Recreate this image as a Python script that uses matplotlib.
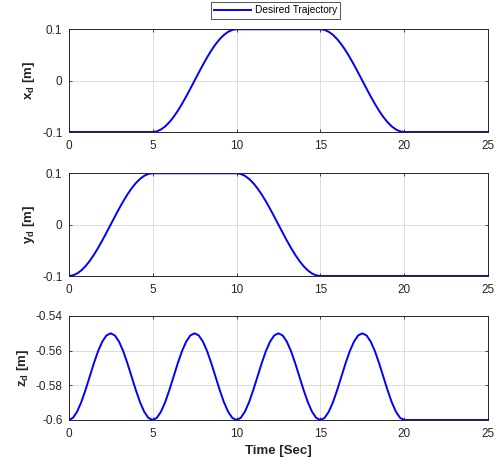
import matplotlib
matplotlib.use("Agg")
import matplotlib.pyplot as plt

# ---- data ----
x_t = [0.0,
       5.0, 5.25, 5.5, 5.75, 6.0, 6.25, 6.5, 6.75, 7.0, 7.25, 7.5, 7.75, 8.0, 8.25, 8.5, 8.75, 9.0, 9.25, 9.5, 9.75, 10.0,
       15.0, 15.25, 15.5, 15.75, 16.0, 16.25, 16.5, 16.75, 17.0, 17.25, 17.5, 17.75, 18.0, 18.25, 18.5, 18.75, 19.0, 19.25, 19.5, 19.75, 20.0,
       25.0]
x_d = [-0.1,
       -0.1, -0.0988, -0.0951, -0.0891, -0.0809, -0.0707, -0.0588, -0.0454, -0.0309, -0.0156, 0.0,
       0.0156, 0.0309, 0.0454, 0.0588, 0.0707, 0.0809, 0.0891, 0.0951, 0.0988, 0.1,
       0.1, 0.0988, 0.0951, 0.0891, 0.0809, 0.0707, 0.0588, 0.0454, 0.0309, 0.0156, 0.0,
       -0.0156, -0.0309, -0.0454, -0.0588, -0.0707, -0.0809, -0.0891, -0.0951, -0.0988, -0.1,
       -0.1]

y_t = [0.0, 0.25, 0.5, 0.75, 1.0, 1.25, 1.5, 1.75, 2.0, 2.25, 2.5, 2.75, 3.0, 3.25, 3.5, 3.75, 4.0, 4.25, 4.5, 4.75, 5.0,
       10.0, 10.25, 10.5, 10.75, 11.0, 11.25, 11.5, 11.75, 12.0, 12.25, 12.5, 12.75, 13.0, 13.25, 13.5, 13.75, 14.0, 14.25, 14.5, 14.75, 15.0,
       25.0]
y_d = [-0.1, -0.0988, -0.0951, -0.0891, -0.0809, -0.0707, -0.0588, -0.0454, -0.0309, -0.0156, 0.0,
       0.0156, 0.0309, 0.0454, 0.0588, 0.0707, 0.0809, 0.0891, 0.0951, 0.0988, 0.1,
       0.1, 0.0988, 0.0951, 0.0891, 0.0809, 0.0707, 0.0588, 0.0454, 0.0309, 0.0156, 0.0,
       -0.0156, -0.0309, -0.0454, -0.0588, -0.0707, -0.0809, -0.0891, -0.0951, -0.0988, -0.1,
       -0.1]

z_t = [0.0, 0.25, 0.5, 0.75, 1.0, 1.25, 1.5, 1.75, 2.0, 2.25, 2.5, 2.75, 3.0, 3.25, 3.5, 3.75, 4.0, 4.25, 4.5, 4.75,
       5.0, 5.25, 5.5, 5.75, 6.0, 6.25, 6.5, 6.75, 7.0, 7.25, 7.5, 7.75, 8.0, 8.25, 8.5, 8.75, 9.0, 9.25, 9.5, 9.75,
       10.0, 10.25, 10.5, 10.75, 11.0, 11.25, 11.5, 11.75, 12.0, 12.25, 12.5, 12.75, 13.0, 13.25, 13.5, 13.75, 14.0, 14.25, 14.5, 14.75,
       15.0, 15.25, 15.5, 15.75, 16.0, 16.25, 16.5, 16.75, 17.0, 17.25, 17.5, 17.75, 18.0, 18.25, 18.5, 18.75, 19.0, 19.25, 19.5, 19.75,
       20.0, 25.0]
z_d = [-0.6, -0.5988, -0.5952, -0.5897, -0.5827, -0.575, -0.5673, -0.5603, -0.5548, -0.5512,
       -0.55, -0.5512, -0.5548, -0.5603, -0.5673, -0.575, -0.5827, -0.5897, -0.5952, -0.5988,
       -0.6, -0.5988, -0.5952, -0.5897, -0.5827, -0.575, -0.5673, -0.5603, -0.5548, -0.5512,
       -0.55, -0.5512, -0.5548, -0.5603, -0.5673, -0.575, -0.5827, -0.5897, -0.5952, -0.5988,
       -0.6, -0.5988, -0.5952, -0.5897, -0.5827, -0.575, -0.5673, -0.5603, -0.5548, -0.5512,
       -0.55, -0.5512, -0.5548, -0.5603, -0.5673, -0.575, -0.5827, -0.5897, -0.5952, -0.5988,
       -0.6, -0.5988, -0.5952, -0.5897, -0.5827, -0.575, -0.5673, -0.5603, -0.5548, -0.5512,
       -0.55, -0.5512, -0.5548, -0.5603, -0.5673, -0.575, -0.5827, -0.5897, -0.5952, -0.5988,
       -0.6, -0.6]

x_ticks = [0, 5, 10, 15, 20, 25]
xy_yticks = [-0.1, 0, 0.1]
xy_yticklabels = ["-0.1", "0", "0.1"]
z_yticks = [-0.6, -0.58, -0.56, -0.54]
z_yticklabels = ["-0.6", "-0.58", "-0.56", "-0.54"]
legend_label = "Desired Trajectory"

plt.rcParams['font.family'] = ['Liberation Sans', 'DejaVu Sans']
plt.rcParams['mathtext.fontset'] = 'custom'
plt.rcParams['mathtext.rm'] = 'Liberation Sans'
plt.rcParams['mathtext.bf'] = 'Liberation Sans:bold'
plt.rcParams['mathtext.it'] = 'Liberation Sans:italic'

fig = plt.figure(figsize=(5.03, 4.65), dpi=100)
W, H = 503.0, 465.0
left, right = 68.7, 488.2
boxes = [(29.3, 132.0), (173.3, 276.0), (316.0, 420.0)]

tick_col = '#262626'
axes = []
for (top, bot) in boxes:
    ax = fig.add_axes([left / W, 1 - bot / H, (right - left) / W, (bot - top) / H])
    axes.append(ax)

series = [(x_t, x_d, xy_yticks, xy_yticklabels, (-0.1, 0.1), r'$\mathbf{x}_{\mathbf{d}}$ [m]'),
          (y_t, y_d, xy_yticks, xy_yticklabels, (-0.1, 0.1), r'$\mathbf{y}_{\mathbf{d}}$ [m]'),
          (z_t, z_d, z_yticks, z_yticklabels, (-0.6, -0.54), r'$\mathbf{z}_{\mathbf{d}}$ [m]')]

for i, (ax, (t, v, yt, ytl, ylim, lab)) in enumerate(zip(axes, series)):
    ax.plot(t, v, color=(0, 0, 1), lw=1.4, label=legend_label)
    ax.set_xlim(0, 25)
    ax.set_ylim(*ylim)
    ax.set_xticks(x_ticks)
    ax.set_xticklabels([str(k) for k in x_ticks])
    ax.set_yticks(yt)
    ax.set_yticklabels(ytl)
    ax.grid(True, color='#dcdcdc', lw=0.7)
    ax.set_axisbelow(True)
    ax.tick_params(direction='in', length=2.5, width=0.6, colors=tick_col,
                   labelsize=8.5, top=True, right=True)
    ax.tick_params(axis='x', pad=5.5)
    ax.tick_params(axis='y', pad=4.5)
    for s in ax.spines.values():
        s.set_color('#262626')
        s.set_linewidth(0.7)
    ax.set_ylabel(lab, fontsize=9.5, fontweight='bold', color=tick_col, labelpad=3.5)
    if i == 0:
        leg = ax.legend(loc='lower center', bbox_to_anchor=(0.4936, 1.105), fontsize=7.3,
                        frameon=True, fancybox=False, handlelength=3.6,
                        borderpad=0.3, handletextpad=0.4, borderaxespad=0.0)
        leg.get_frame().set_edgecolor('#262626')
        leg.get_frame().set_linewidth(0.7)

axes[2].set_xlabel('Time [Sec]', fontsize=9.5, fontweight='bold', color=tick_col, labelpad=4)

fig.savefig('out.png', dpi=100)
